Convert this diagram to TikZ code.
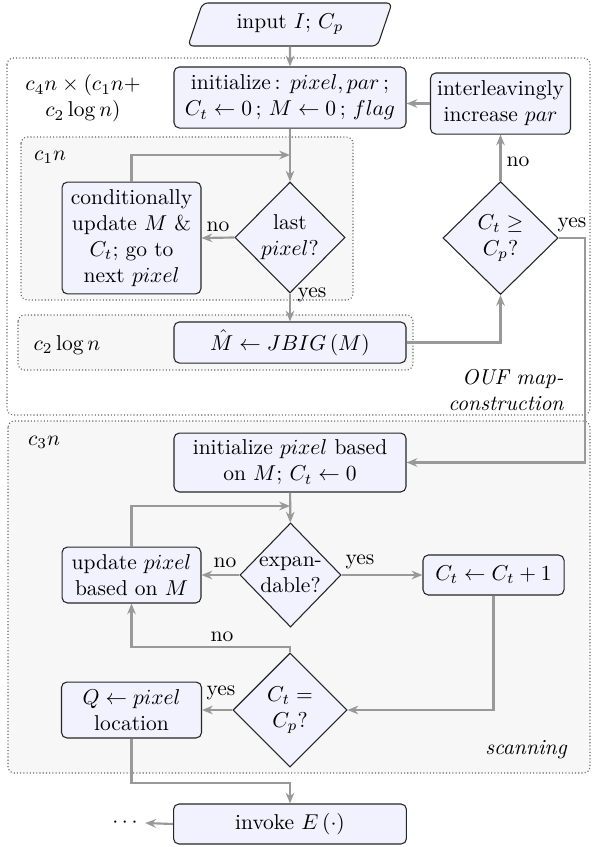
\documentclass[tikz,border=0pt]{standalone}
\usetikzlibrary{shapes.geometric,arrows.meta}
\begin{document}
\begin{tikzpicture}[x=0.465pt,y=-0.465pt,
  block/.style={draw=black!85, fill=blue!5, rounded corners=2.5pt, align=center, inner sep=2pt, line width=0.5pt},
  decision/.style={draw=black!85, fill=blue!5, diamond, aspect=1, align=center, inner sep=0pt, line width=0.5pt},
  inputbox/.style={draw=black!85, fill=blue!5, trapezium, trapezium left angle=74, trapezium right angle=106,
    trapezium stretches=true, rounded corners=2.5pt, line width=0.5pt},
  flow/.style={draw=gray!80, line width=1pt, -{Stealth[length=5pt,width=4pt]}},
  area/.style={draw=black!60, densely dotted, rounded corners=3pt, line width=0.5pt},
  lbl/.style={inner sep=0pt}]
\useasboundingbox (0,0) rectangle (591,847);

% grouping frames
\draw[area] (7,58) rectangle (590,415);
\draw[area, fill=gray!6] (21,137) rectangle (353,300);
\draw[area, fill=gray!6] (18,315) rectangle (413,370);
\draw[area, fill=gray!6] (8,421) rectangle (590,773);

% frame captions
\node[align=center] (tA) at (83,98.5) {$c_4 n \times (c_1 n +$\\$c_2 \log n)$};
\node (tB) at (50,157) {$c_1 n$};
\node (tC) at (67,345) {$c_2 \log n$};
\node (tD) at (44,442) {$c_3 n$};
\node[align=right, anchor=east, inner sep=0pt] (tE) at (564,390) {\itshape OUF map-\\\itshape construction};
\node (tF) at (526,750) {\itshape scanning};

% map construction
\node[inputbox, minimum width=94.9pt, minimum height=20pt] (in) at (290,24.5) {input $I$; $C_p$};
\node[block, minimum width=107.9pt, minimum height=28.4pt] (init) at (290,97.5)
  {initialize\,: $pixel, par$\,;\\ $C_t \leftarrow 0$\,; $M \leftarrow 0$\,; $flag$};
\node[block, minimum width=65.1pt, minimum height=28.4pt] (incr) at (500.5,103.5) {interleavingly\\increase $par$};
\node[decision, minimum width=51.2pt, minimum height=51.6pt] (last) at (290,237.5) {last\\$pixel$?};
\node[block, minimum width=64.6pt, minimum height=52pt] (cond) at (131.5,238)
  {conditionally\\update $M$ \&\\$C_t$; go to\\next $pixel$};
\node[decision, minimum width=53.5pt, minimum height=52.5pt] (cmp) at (500.5,238) {$C_t \geq$\\$C_p$?};
\node[block, minimum width=107.9pt, minimum height=19.1pt] (jbig) at (290,342.5) {$\hat{M} \leftarrow JBIG\left(M\right)$};

% scanning
\node[block, minimum width=107.9pt, minimum height=27.4pt] (scan) at (290,462.5)
  {initialize $pixel$ based\\on $M$; $C_t \leftarrow 0$};
\node[decision, minimum width=47pt, minimum height=48.4pt] (exp) at (290.5,575) {expan-\\dable?};
\node[block, minimum width=64.6pt, minimum height=26pt] (upd) at (131.5,575) {update $pixel$\\based on $M$};
\node[block, minimum width=65.6pt, minimum height=18.6pt] (inc) at (493.5,575) {$C_t \leftarrow C_t + 1$};
\node[decision, minimum width=53pt, minimum height=53pt] (eq) at (290,710) {$C_t =$\\$C_p$?};
\node[block, minimum width=65.1pt, minimum height=26pt] (loc) at (131.5,710) {$Q \leftarrow pixel$\\location};
\node[block, minimum width=108.3pt, minimum height=18.6pt] (inv) at (290,824) {invoke $E\left(\cdot\right)$};
\node (dots) at (125,823) {$\cdots$};

% junction points
\coordinate (j1) at (290,155);
\coordinate (j2) at (290,506);
\coordinate (j3) at (0,647);
\coordinate (j4) at (0,783);
\coordinate (rc) at (585,0);

% connectors
\draw[flow] (in) -- (init);
\draw[flow] (init) -- (last);
\draw[flow] (cond.north) |- (j1);
\draw[flow] (last.west) -- (cond.east);
\draw[flow] (last.south) -- (jbig.north);
\draw[flow] (jbig.east) -| (cmp.south);
\draw[flow] (cmp.north) -- (incr.south);
\draw[flow] (incr.west) -- (incr.west -| init.east);
\draw[flow] (cmp.east) -| (rc |- scan.east) -- (scan.east);
\draw[flow] (scan) -- (exp);
\draw[flow] (upd.north) |- (j2);
\draw[flow] (exp.west) -- (upd.east);
\draw[flow] (exp.east) -- (inc.west);
\draw[flow] (inc.south) |- (eq.east);
\draw[flow] (eq.north) -- (eq.north |- j3) -| (upd.south);
\draw[flow] (eq.west) -- (loc.east);
\draw[flow] (loc.south) -- (loc.south |- j4) -| (inv.north);
\draw[flow] (inv.west) -- (dots.east);

% branch labels
\node[lbl] (n1) at (218,227) {no};
\node[lbl] (y1) at (312,295) {yes};
\node[lbl] (n2) at (518,162) {no};
\node[lbl] (y2) at (572,225) {yes};
\node[lbl] (n3) at (225,563) {no};
\node[lbl] (y3) at (360,562) {yes};
\node[lbl] (n4) at (222,637) {no};
\node[lbl] (y4) at (221,693) {yes};
\end{tikzpicture}
\end{document}
